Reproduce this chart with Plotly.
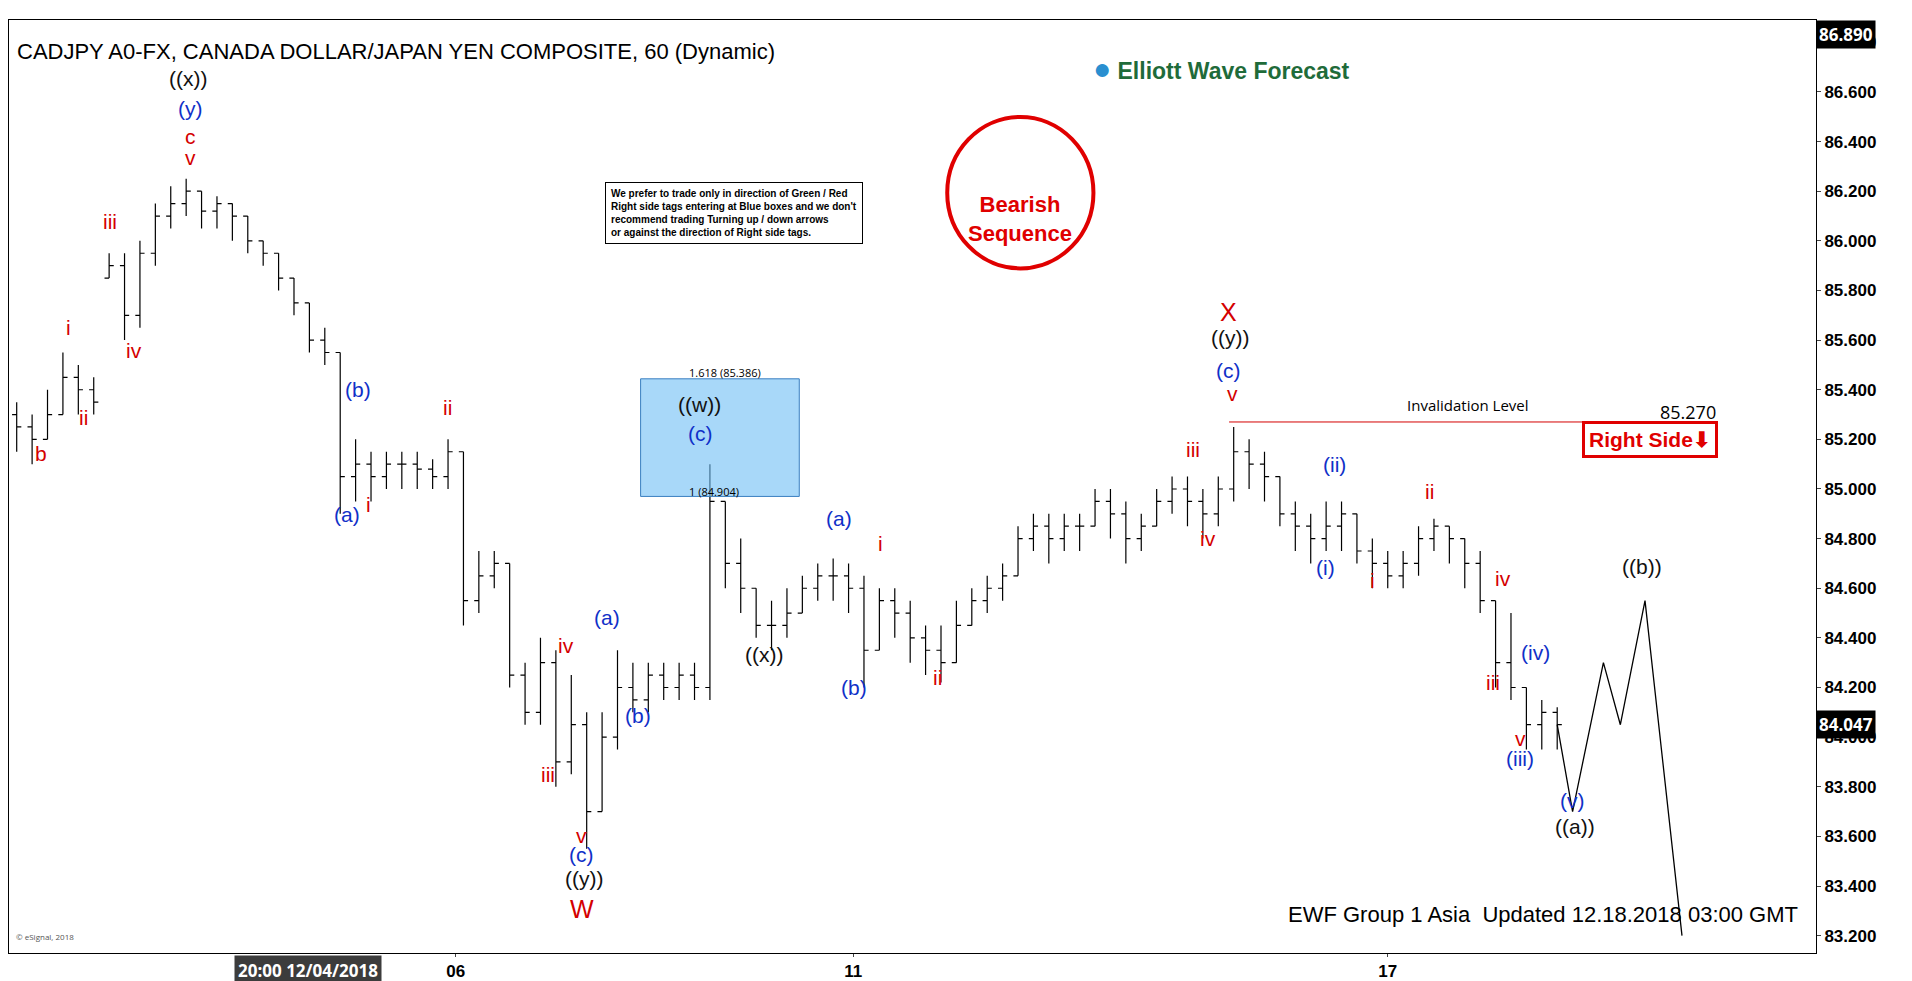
import plotly.graph_objects as go

# hourly bars (index = bar number)
closes = [85.25, 85.2, 85.3, 85.45, 85.4, 85.35, 85.9, 85.7, 85.95, 86.1,
          86.15, 86.2, 86.12, 86.15, 86.1, 86.0, 85.95, 85.85, 85.75, 85.6,
          85.55, 85.05, 85.1, 85.05, 85.1, 85.1, 85.08, 85.05, 85.15, 84.55,
          84.65, 84.7, 84.25, 84.1, 84.3, 83.9, 84.05, 83.7, 84.0, 84.2,
          84.15, 84.25, 84.2, 84.25, 84.2, 84.95, 84.7, 84.6, 84.45, 84.45,
          84.5, 84.6, 84.65, 84.65, 84.6, 84.35, 84.55, 84.5, 84.4, 84.35,
          84.3, 84.45, 84.55, 84.6, 84.65, 84.8, 84.85, 84.8, 84.85, 84.85,
          84.95, 84.9, 84.8, 84.85, 84.95, 85.0, 84.95, 84.9, 85.0, 85.15,
          85.1, 85.05, 84.9, 84.85, 84.8, 84.85, 84.9, 84.75, 84.7, 84.65,
          84.7, 84.8, 84.85, 84.8, 84.7, 84.55, 84.3, 84.2, 84.05, 84.1, 84.05]
highs = [85.35, 85.3, 85.4, 85.55, 85.5, 85.45, 85.95, 85.95, 86.0, 86.15,
         86.22, 86.25, 86.2, 86.18, 86.15, 86.1, 86.0, 85.95, 85.85, 85.75,
         85.65, 85.55, 85.2, 85.15, 85.15, 85.15, 85.15, 85.12, 85.2, 85.15,
         84.75, 84.75, 84.7, 84.3, 84.4, 84.35, 84.25, 84.1, 84.1, 84.35,
         84.3, 84.3, 84.3, 84.3, 84.3, 85.1, 84.95, 84.8, 84.6, 84.55,
         84.6, 84.65, 84.7, 84.72, 84.7, 84.65, 84.6, 84.6, 84.55, 84.45,
         84.45, 84.55, 84.6, 84.65, 84.7, 84.85, 84.9, 84.9, 84.9, 84.9,
         85.0, 85.0, 84.95, 84.9, 85.0, 85.05, 85.05, 85.0, 85.05, 85.25,
         85.2, 85.15, 85.05, 84.95, 84.9, 84.95, 84.95, 84.9, 84.8, 84.75,
         84.75, 84.85, 84.88, 84.85, 84.8, 84.75, 84.55, 84.5, 84.2, 84.15, 84.12]
lows = [85.15, 85.1, 85.2, 85.3, 85.3, 85.3, 85.85, 85.6, 85.65, 85.9,
        86.05, 86.1, 86.05, 86.05, 86.0, 85.95, 85.9, 85.8, 85.7, 85.55,
        85.5, 84.9, 84.95, 84.95, 85.0, 85.0, 85.0, 85.0, 85.0, 84.45,
        84.5, 84.6, 84.2, 84.05, 84.05, 83.8, 83.85, 83.55, 83.7, 83.95,
        84.1, 84.1, 84.15, 84.15, 84.15, 84.15, 84.6, 84.5, 84.4, 84.35,
        84.4, 84.5, 84.55, 84.55, 84.5, 84.2, 84.35, 84.4, 84.3, 84.25,
        84.22, 84.3, 84.45, 84.5, 84.55, 84.65, 84.75, 84.7, 84.75, 84.75,
        84.85, 84.8, 84.7, 84.75, 84.85, 84.9, 84.85, 84.8, 84.85, 84.95,
        85.0, 84.95, 84.85, 84.75, 84.7, 84.75, 84.75, 84.7, 84.6, 84.6,
        84.6, 84.65, 84.75, 84.7, 84.6, 84.5, 84.2, 84.15, 83.95, 83.95, 83.95]

# projected path
proj_x = [100, 101, 103, 104.1, 105.7, 108.1]
proj_y = [84.05, 83.7, 84.3, 84.05, 84.55, 83.2]

day_ticks = [28.5, 54.3, 89]
day_labels = ["06", "11", "17"]

inval_level = 85.27

opens = [85.3] + [min(max(c, l), h) for c, l, h in zip(closes[:-1], lows[1:], highs[1:])]
xs = list(range(len(closes)))

RED, BLUE, BLK = "#d40000", "#1030c8", "#111111"
labels = [
    ("((x))", 141, 58, BLK, 21), ("(y)", 143, 83, BLUE, 21), ("c", 143, 106, RED, 21), ("v", 143, 123, RED, 21),
    ("iii", 77, 176, RED, 21), ("iv", 97, 283, RED, 21), ("i", 43, 264, RED, 21), ("ii", 55, 338, RED, 21),
    ("b", 20, 368, RED, 21), ("(b)", 281, 315, BLUE, 21), ("(a)", 272, 418, BLUE, 21), ("i", 290, 410, RED, 21),
    ("ii", 355, 330, RED, 21), ("iv", 453, 526, RED, 21), ("iii", 438, 633, RED, 21), ("v", 466, 683, RED, 21),
    ("(c)", 466, 699, BLUE, 21), ("((y))", 468, 719, BLK, 21), ("W", 466, 744, RED, 25),
    ("(a)", 487, 503, BLUE, 21), ("(b)", 512, 584, BLUE, 21), ("((w))", 563, 327, BLK, 21), ("(c)", 564, 351, BLUE, 21),
    ("((x))", 616, 534, BLK, 21), ("(a)", 678, 421, BLUE, 21), ("(b)", 690, 561, BLUE, 21), ("i", 712, 442, RED, 21),
    ("ii", 759, 553, RED, 21), ("iii", 970, 364, RED, 21), ("iv", 982, 438, RED, 21), ("X", 999, 251, RED, 25),
    ("((y))", 1000, 272, BLK, 21), ("(c)", 999, 299, BLUE, 21), ("v", 1002, 318, RED, 21),
    ("(ii)", 1086, 377, BLUE, 21), ("(i)", 1079, 462, BLUE, 21), ("ii", 1165, 399, RED, 21), ("i", 1118, 473, RED, 21),
    ("iv", 1225, 471, RED, 21), ("iii", 1217, 557, RED, 21), ("(iv)", 1252, 532, BLUE, 21), ("v", 1240, 603, RED, 21),
    ("(iii)", 1239, 620, BLUE, 21), ("(v)", 1283, 654, BLUE, 21), ("((a))", 1285, 676, BLK, 21), ("((b))", 1340, 461, BLK, 21),
]


def px2data(px, py):
    return px / 12.7, 86.8 - (py - 28) / 205.0


def paper(px, py):
    return px / 1483.0, (780 - py) / 770.0


fig = go.Figure()
fig.add_trace(go.Ohlc(x=xs, open=opens, high=highs, low=lows, close=closes,
                      increasing_line_color="black", decreasing_line_color="black",
                      line_width=1.2, tickwidth=0.3, showlegend=False))
fig.add_trace(go.Scatter(x=proj_x, y=proj_y, mode="lines", line=dict(color="black", width=1.3),
                         showlegend=False, hoverinfo="skip"))

ann = []
for t, px, py, c, s in labels:
    x, y = px2data(px, py)
    ann.append(dict(x=x, y=y, text=t, showarrow=False, xanchor="center",
                    font=dict(color=c, size=s, family="Arial")))

# blue fib box
fig.add_shape(type="rect", x0=40.5, x1=50.8, y0=84.97, y1=85.444, fillcolor="rgba(110,190,245,0.6)",
              line=dict(color="#3a7fc0", width=1))
ann.append(dict(x=43.5, y=85.47, text="1.618 (85.386)", showarrow=False, font=dict(size=11, color="black"), xanchor="left"))
ann.append(dict(x=43.5, y=84.99, text="1 (84.904)", showarrow=False, font=dict(size=11, color="black"), xanchor="left"))

# invalidation
fig.add_shape(type="line", x0=78.7, x1=106.3, y0=inval_level, y1=inval_level, line=dict(color=RED, width=1))
ann.append(dict(x=94.2, y=inval_level + 0.07, text="Invalidation Level", showarrow=False, xanchor="center",
                font=dict(size=15, color="black")))
ann.append(dict(x=108.5, y=inval_level + 0.04, text="85.270", showarrow=False, xanchor="center",
                font=dict(size=18, color="black")))

# bearish circle
cx0, cy0 = paper(770, 90)
cx1, cy1 = paper(890, 215)
fig.add_shape(type="circle", xref="paper", yref="paper", x0=cx0, x1=cx1, y0=cy1, y1=cy0,
              line=dict(color="#e00000", width=4), fillcolor="white")
x, y = paper(830, 150)
ann.append(dict(xref="paper", yref="paper", x=x, y=y, xanchor="center", text="<b>Bearish<br>Sequence</b>",
                showarrow=False, font=dict(size=22, color="#e00000", family="Arial")))

# right side box
x, y = paper(1347, 356)
ann.append(dict(xref="paper", yref="paper", x=x, y=y, xanchor="center", text="<b>Right Side⬇</b>", showarrow=False,
                font=dict(size=21, color="#e00000", family="Arial"), bordercolor="#e00000", borderwidth=3,
                bgcolor="white", borderpad=4))

# note box
x, y = paper(595, 144)
ann.append(dict(xref="paper", yref="paper", x=x, y=y, xanchor="center", showarrow=False, align="left",
                text="<b>We prefer to trade only in direction of Green / Red<br>Right side tags entering at Blue boxes and we don't<br>"
                     "recommend trading Turning up / down arrows<br>or against the direction of Right side tags.</b>",
                font=dict(size=10, color="black", family="Arial"), bordercolor="black", borderwidth=1,
                bgcolor="white", borderpad=5))

# title, logo, footer
x, y = paper(5, 24)
ann.append(dict(xref="paper", yref="paper", x=x, y=y, xanchor="left", showarrow=False,
                text="CADJPY A0-FX, CANADA DOLLAR/JAPAN YEN COMPOSITE, 60 (Dynamic)",
                font=dict(size=22, color="black", family="Arial")))
x, y = paper(995, 35)
ann.append(dict(xref="paper", yref="paper", x=x, y=y, xanchor="center", showarrow=False,
                text="<b><span style='color:#2a8fd0;font-size:30px'>●</span> Elliott Wave Forecast</b>",
                font=dict(size=23, color="#1f6b3a", family="Arial")))
x, y = paper(1470, 760)
ann.append(dict(xref="paper", yref="paper", x=x, y=y, xanchor="right", showarrow=False,
                text="EWF Group 1 Asia  Updated 12.18.2018 03:00 GMT",
                font=dict(size=22, color="black", family="Arial")))
ann.append(dict(xref="paper", yref="paper", x=0.003, y=0.01, xanchor="left", showarrow=False,
                text="© eSignal, 2018", font=dict(size=8, color="#555")))

# price tags
ann.append(dict(xref="paper", y=closes[-1], x=1.0, xanchor="left", showarrow=False, text="<b>84.047</b>",
                font=dict(size=17, color="white"), bgcolor="black", borderpad=2))
ann.append(dict(xref="paper", yref="paper", y=1.0, x=1.0, xanchor="left", showarrow=False, text="<b>86.890</b>",
                font=dict(size=17, color="white"), bgcolor="black", borderpad=2))
# date box
ann.append(dict(xref="paper", yref="paper", x=paper(245, 0)[0], y=0, xanchor="center", yanchor="top", yshift=-2,
                showarrow=False, text="<b>20:00 12/04/2018</b>", font=dict(size=17, color="white"),
                bgcolor="#3c3c3c", borderpad=3))

fig.update_layout(
    width=1912, height=981,
    margin=dict(l=1, r=104, t=12, b=36),
    paper_bgcolor="white", plot_bgcolor="white",
    annotations=ann,
    xaxis=dict(range=[-0.5, 116.8], rangeslider=dict(visible=False), showgrid=False, zeroline=False,
               tickvals=day_ticks, ticktext=day_labels, ticks="outside", ticklen=3,
               tickfont=dict(size=17, color="black", family="Arial", weight="bold"),
               showline=True, linecolor="black", mirror=True),
    yaxis=dict(range=[83.13, 86.89], side="right", showgrid=False, zeroline=False,
               tickvals=[83.2 + 0.2 * i for i in range(19)], tickformat=".3f", ticks="outside", ticklen=4,
               tickfont=dict(size=17, color="black", family="Arial", weight="bold"),
               showline=True, linecolor="black", mirror=True),
)

fig.write_html("out.html")
